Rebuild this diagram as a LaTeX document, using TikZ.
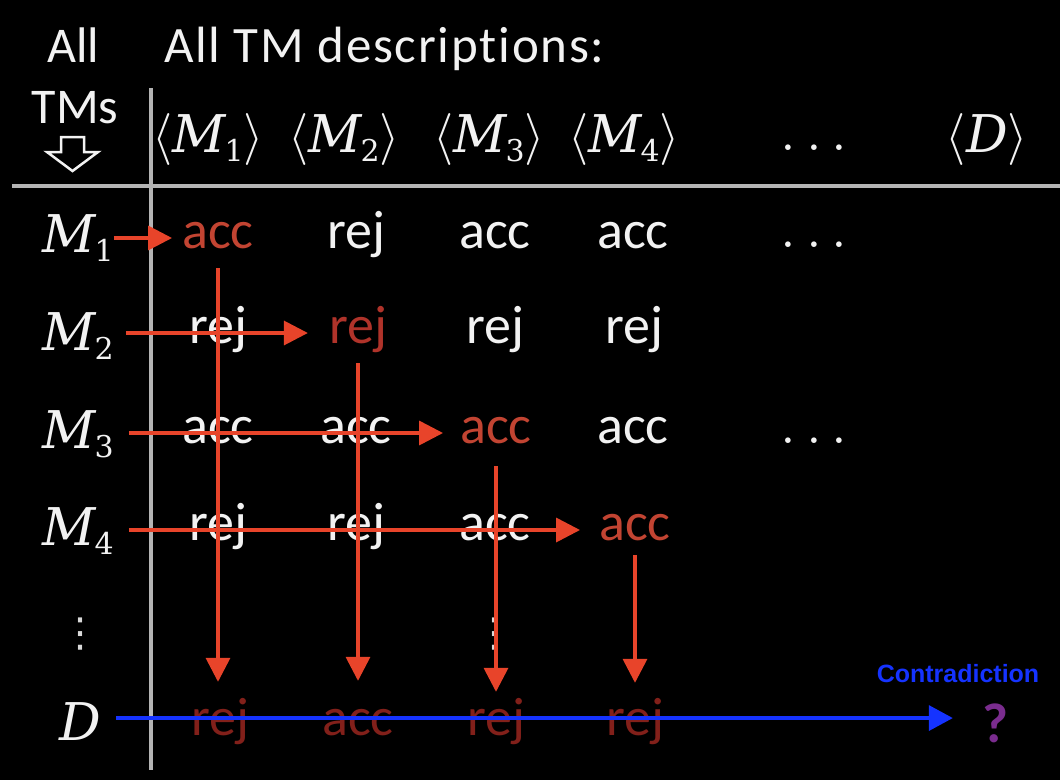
\documentclass[tikz,border=0pt]{standalone}
\usepackage{fix-cm}
\usepackage{fontspec}
\setmainfont{Carlito}[Ligatures=NoCommon]
\newfontfamily\contrafont{Liberation Sans}
\newfontfamily\djvfont{DejaVu Sans}
\newfontfamily\mserif{DejaVu Serif}
\newcommand\tmlab[2]{{\mserif\itshape #1}\kern-1pt\raisebox{-9pt}{\fontsize{30}{30}\selectfont\mserif #2}}
\usetikzlibrary{arrows.meta}
\definecolor{arrred}{HTML}{E8442A}
\definecolor{hotred}{HTML}{C24432}
\definecolor{hotred2}{HTML}{B0332A}
\definecolor{dimred}{HTML}{82201A}
\definecolor{contrablue}{HTML}{1533FF}
\definecolor{qpurple}{HTML}{7A2C8E}
\definecolor{rulegray}{HTML}{B4B4B4}
\definecolor{txtwhite}{HTML}{F2F2F2}
\begin{document}
\begin{tikzpicture}[x=1pt,y=-1pt,
  hdr/.style={text=txtwhite,font=\fontsize{50}{60}\selectfont,inner sep=0pt,anchor=base},
  lab/.style={text=txtwhite,font=\fontsize{52}{62}\selectfont,inner sep=0pt,anchor=base},
  cellt/.style={text=txtwhite,font=\fontsize{54}{64}\selectfont,inner sep=0pt,text height=30pt,text depth=10pt,anchor=base},
  hot/.style={cellt,text=hotred},
  hotb/.style={cellt,text=hotred2},
  dim/.style={cellt,text=dimred},
  dotst/.style={text=txtwhite,font=\fontsize{58}{70}\selectfont,inner sep=0pt,anchor=base},
  vdotst/.style={text=white!85!black,font=\fontsize{40}{48}\selectfont\djvfont,inner sep=0pt,anchor=base},
  rarr/.style={draw=arrred,line width=3.5pt,-{Triangle[length=24pt,width=24pt]}},
  barr/.style={draw=contrablue,line width=3.5pt,-{Triangle[length=24pt,width=25pt]}},
  rulel/.style={draw=rulegray,line width=4pt}]
\useasboundingbox[fill=black] (0,0) rectangle (1060,780);

% rules
\draw[rulel] (151,88) -- (151,770);
\draw[rulel] (12,186) -- (1060,186);

% headings
\node[hdr] (all) at (73,62) {All};
\node[hdr,anchor=base west,font=\fontsize{51}{60}\selectfont\addfontfeature{LetterSpace=3.5}] (title) at (164,62) {All TM descriptions:};
\node[hdr] (tms) at (75,123) {TMs};
\draw[txtwhite,line width=2.5pt,line join=miter]
  (61,137) -- (84,137) -- (84,152) -- (98,152) -- (72.5,171) -- (47,152) -- (61,152) -- cycle;

\node[lab] (h1) at (208,152) {$\langle$\tmlab{M}{1}$\rangle$};
\node[lab] (h2) at (344,152) {$\langle$\tmlab{M}{2}$\rangle$};
\node[lab] (h3) at (489,152) {$\langle$\tmlab{M}{3}$\rangle$};
\node[lab] (h4) at (624,152) {$\langle$\tmlab{M}{4}$\rangle$};
\node[dotst] (h5) at (814,150) {$\ldots$};
\node[lab] (hd) at (987,152) {$\langle${\mserif\itshape D}$\rangle$};

% row labels
\node[lab] (m1) at (78,252) {\tmlab{M}{1}};
\node[lab] (m2) at (78,350) {\tmlab{M}{2}};
\node[lab] (m3) at (78,448) {\tmlab{M}{3}};
\node[lab] (m4) at (78,545) {\tmlab{M}{4}};
\node[vdotst] (vd1) at (80,646) {⋮};
\node[lab] (dl) at (80,740) {{\mserif\itshape D}};

% cells
\node[hot]   (c11) at (218,248) {acc};
\node[cellt] (c12) at (356,248) {rej};
\node[cellt] (c13) at (495,248) {acc};
\node[cellt] (c14) at (633,248) {acc};
\node[dotst] (c15) at (814,247) {$\ldots$};

\node[cellt] (c21) at (218,343) {rej};
\node[hotb]  (c22) at (358,343) {rej};
\node[cellt] (c23) at (495,343) {rej};
\node[cellt] (c24) at (634,343) {rej};

\node[cellt] (c31) at (218,443) {acc};
\node[cellt] (c32) at (356,443) {acc};
\node[hot]   (c33) at (496,443) {acc};
\node[cellt] (c34) at (633,443) {acc};
\node[dotst] (c35) at (814,443) {$\ldots$};

\node[cellt] (c41) at (218,540) {rej};
\node[cellt] (c42) at (356,540) {rej};
\node[cellt] (c43) at (495,540) {acc};
\node[hot]   (c44) at (635,540) {acc};

\node[vdotst] (vd3) at (494,646) {⋮};

\node[dim] (d1) at (220,735) {rej};
\node[dim] (d2) at (358,735) {acc};
\node[dim] (d3) at (496,735) {rej};
\node[dim] (d4) at (635,735) {rej};
\node[cellt,text=qpurple,font=\fontsize{56}{64}\selectfont\bfseries] (q) at (995,742) {?};

\node[text=contrablue,font=\fontsize{25}{30}\selectfont\contrafont\bfseries,inner sep=0pt,anchor=base] (contra) at (958,682) {Contradiction};

% horizontal red arrows
\draw[rarr,shorten >=10pt] (m1.east |- c11.west) -- (c11.west);
\draw[rarr,shorten <=12pt,shorten >=21pt] (m2.east |- c22.west) -- (c22.west);
\draw[rarr,shorten <=15pt,shorten >=17pt] (m3.east |- c33.west) -- (c33.west);
\draw[rarr,shorten <=15pt,shorten >=19pt] (m4.east |- c44.west) -- (c44.west);

% vertical red arrows
\draw[rarr,shorten <=10pt,shorten >=23pt] (c11.south) -- (c11.south |- d1.north);
\draw[rarr,shorten <=10pt,shorten >=24pt] (c22.south) -- (c22.south |- d2.north);
\draw[rarr,shorten <=13pt,shorten >=13pt] (c33.south) -- (c33.south |- d3.north);
\draw[rarr,shorten <=5pt,shorten >=22pt] (c44.south) -- (c44.south |- d4.north);

% blue arrow
\draw[barr,shorten <=15pt,shorten >=29pt] ([yshift=3pt]dl.east) -- ([yshift=3pt]dl.east -| q.west);
\end{tikzpicture}
\end{document}
